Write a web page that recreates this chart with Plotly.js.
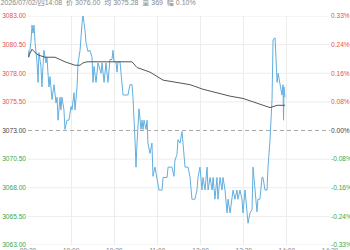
<!DOCTYPE html>
<html><head><meta charset="utf-8">
<script src="https://cdn.plot.ly/plotly-3.0.1.min.js"></script>
<style>html,body{margin:0;padding:0;background:#fff}#c{width:350px;height:250px}</style>
</head><body><div id="c"></div>
<script>
// minutes since open and prices
const priceMin = [0,0.7,2.1,2.8,3.5,4.2,4.9,6.3,7.0,7.6,9.0,9.7,10.4,11.1,12.5,13.2,13.9,14.6,15.3,16.0,16.7,18.1,18.8,19.5,20.2,20.9,22.3,22.9,23.6,25.0,25.7,27.1,28.5,29.9,30.6,32.0,32.7,34.1,34.8,36.2,37.6,38.2,39.6,40.3,41.7,43.1,44.5,45.2,45.9,47.3,48.7,50.8,51.5,52.9,54.2,55.6,57.0,58.4,59.1,59.8,61.2,61.9,62.6,64.0,64.7,65.4,66.1,69.5,70.9,72.3,73.0,74.4,75.1,75.8,77.2,78.6,79.3,80.0,80.7,82.1,82.8,83.4,84.8,86.2,86.9,88.3,89.7,91.1,93.2,93.9,96.7,97.4,100.1,101.5,102.2,103.6,104.3,105.7,107.1,107.8,109.2,111.3,112.7,114.0,116.1,117.5,118.2,119.6,121.0,121.7,123.1,124.5,125.2,126.6,128.0,128.7,130.0,131.4,132.1,133.5,134.9,135.6,137.0,138.4,139.1,140.5,141.9,142.6,143.9,145.3,146.0,147.4,148.8,149.5,150.9,152.3,153.0,154.4,155.8,156.5,157.9,159.2,159.9,161.3,162.7,163.4,164.8,166.2,166.9,168.3,169.7,170.4,171.8,173.2,173.9,175.2,176.6,177.3,177.7,178.0,178.7];
const price = [3080.0,3079.4,3080.8,3082.2,3081.5,3082.2,3080.7,3078.9,3077.2,3079.8,3078.6,3076.8,3078.6,3080.0,3078.9,3079.4,3078.0,3076.8,3077.7,3076.8,3075.7,3077.0,3075.9,3075.4,3075.9,3073.9,3075.9,3074.8,3075.9,3074.8,3073.1,3073.9,3073.9,3075.1,3074.8,3076.3,3074.8,3076.8,3078.9,3080.0,3082.4,3083.1,3081.8,3080.7,3079.9,3080.0,3079.4,3077.2,3078.6,3077.2,3078.9,3078.0,3078.9,3077.2,3078.9,3077.2,3079.2,3079.2,3080.0,3079.0,3079.0,3078.1,3079.0,3079.0,3078.0,3077.2,3076.1,3076.1,3077.0,3077.0,3075.9,3072.2,3069.8,3071.9,3074.9,3073.1,3073.9,3073.1,3073.9,3073.1,3073.9,3071.9,3071.0,3071.9,3069.0,3069.8,3068.9,3067.8,3067.8,3068.9,3068.9,3069.8,3069.8,3069.0,3070.4,3070.9,3072.2,3071.9,3072.9,3071.8,3069.8,3069.8,3068.9,3067.0,3067.0,3067.8,3068.9,3069.8,3067.8,3068.9,3067.8,3069.8,3067.8,3068.9,3067.8,3068.9,3067.0,3068.9,3067.0,3068.9,3067.8,3068.9,3067.8,3065.8,3067.0,3065.8,3067.0,3067.8,3067.0,3067.8,3067.0,3067.8,3067.0,3065.8,3067.8,3065.8,3064.9,3065.8,3066.1,3069.8,3067.8,3065.9,3067.0,3067.0,3068.9,3068.9,3067.8,3067.8,3069.8,3072.2,3075.7,3080.9,3081.1,3077.2,3078.0,3077.0,3076.1,3077.0,3073.9,3076.8,3075.9];
const avgMin = [0,1.4,2.8,4.2,7.0,11.8,18.8,25.7,32.7,36.2,38.2,41.0,72.3,75.8,84.8,93.9,103.6,112.7,121.7,131.4,140.5,149.5,159.2,168.3,173.2,178.7];
const avgPrice = [3079.4,3079.8,3080.1,3079.9,3079.6,3079.4,3079.4,3079.0,3078.7,3078.7,3078.9,3079.0,3079.0,3078.5,3078.1,3077.4,3077.2,3077.0,3076.6,3076.3,3076.0,3075.8,3075.4,3075.0,3075.2,3075.2];
const prevClose = 3073;
const priceTicks = [3063,3065.5,3068,3070.5,3073,3075.5,3078,3080.5,3083];
const pctLabels = ["-0.33%","-0.16%","-0.16%","-0.08%","0.00%","0.08%","0.16%","0.24%","0.33%"];
const timeTicks = [0,30,60,90,120,150,180,210];
const timeLabels = ["09:30","10:00","10:30","11:00","13:00","13:30","14:00","14:30"];
const header = "2026/07/02/四14:08  价 3076.00  均 3075.28  量 369  幅 0.10%";

pctLabels[1] = "-0.24%"; pctLabels[2] = "-0.16%";

const RED = "#e8504f", GREEN = "#3aa64a", DARK = "#444";
function col(v){ return v > prevClose ? RED : (v < prevClose ? GREEN : DARK); }
const leftText = priceTicks.map(v => `<span style="color:${col(v)}">${v.toFixed(2)}</span>`);
const rightText = priceTicks.map((v,i) => `<span style="color:${col(v)}">${pctLabels[i]}</span>`);
const pctVals = priceTicks.map(v => (v - prevClose) / prevClose * 100);
const lo = priceTicks[0], hi = priceTicks[priceTicks.length-1];

const shapes = priceTicks.filter(v => v !== prevClose).map(v => ({
  type:'line', xref:'paper', x0:0, x1:1, yref:'y', y0:v, y1:v,
  line:{color:'#ececec', width:1}, layer:'below'
}));
shapes.push({type:'line', xref:'paper', x0:0, x1:1, yref:'y', y0:prevClose, y1:prevClose,
  line:{color:'#aaaaaa', width:1, dash:'4px,3px'}, layer:'above'});

const font = "Liberation Sans, Arial, Noto Sans CJK SC, sans-serif";
const data = [
  {x: priceMin, y: price, type:'scatter', mode:'lines', line:{color:'#62aedf', width:1}, hoverinfo:'skip'},
  {x: avgMin, y: avgPrice, type:'scatter', mode:'lines', line:{color:'#555555', width:1}, hoverinfo:'skip'},
  {x: [timeTicks[0]], y: [0], yaxis:'y2', type:'scatter', mode:'none', hoverinfo:'skip', showlegend:false}
];
const layout = {
  width:350, height:250, showlegend:false,
  margin:{l:28, r:20, t:16, b:5, pad:0},
  paper_bgcolor:'#fff', plot_bgcolor:'#fff',
  font:{family:font, size:6.6, color:'#888'},
  title:{text:header, font:{family:font, size:7, color:'#888'}, x:0.002, xref:'container', xanchor:'left', y:0.998, yref:'container', yanchor:'top', pad:{t:0,l:0,r:0,b:0}},
  xaxis:{range:[timeTicks[0], timeTicks[timeTicks.length-1]], tickvals:timeTicks, ticktext:timeLabels,
    showgrid:true, gridcolor:'#ececec', gridwidth:1, zeroline:false, showline:false, ticks:'',
    tickfont:{size:6.6, color:'#888'}, fixedrange:true},
  yaxis:{range:[lo, hi], tickvals:priceTicks, ticktext:leftText, showgrid:false, zeroline:false,
    showline:false, ticks:'', tickfont:{size:6.6}, ticklabelstandoff:1},
  yaxis2:{overlaying:'y', side:'right', range:[(lo-prevClose)/prevClose*100, (hi-prevClose)/prevClose*100],
    tickvals:pctVals, ticktext:rightText, showgrid:false, zeroline:false, showline:false, ticks:'',
    tickfont:{size:6.6}, ticklabelstandoff:0},
  shapes: shapes
};
Plotly.newPlot('c', data, layout, {staticPlot:true, displayModeBar:false});
</script></body></html>
